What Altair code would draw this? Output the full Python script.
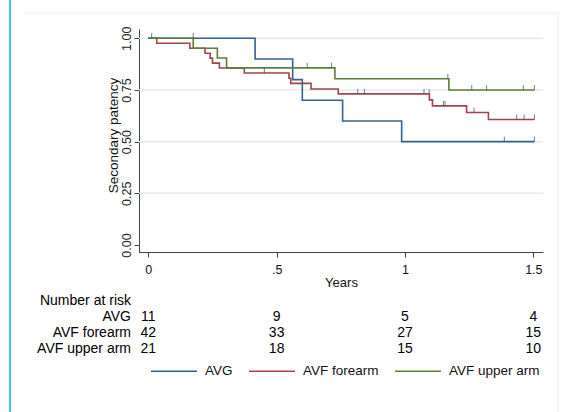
import altair as alt
import pandas as pd

# ---------------- data ----------------
groups = ["AVG", "AVF forearm", "AVF upper arm"]
colors = ["#34628d", "#a1434b", "#5b7f35"]

# Kaplan-Meier step points (time in years, secondary patency)
avg_t = [0, 0.416, 0.5625, 0.60, 0.757, 0.987, 1.504]
avg_s = [1.0, 0.90, 0.80, 0.70, 0.60, 0.50, 0.50]

fore_t = [0, 0.033, 0.162, 0.221, 0.241, 0.250, 0.277, 0.374, 0.548, 0.555,
          0.634, 0.740, 1.095, 1.107, 1.240, 1.325, 1.504]
fore_s = [1.0, 0.976, 0.952, 0.928, 0.904, 0.880, 0.856, 0.832, 0.807, 0.782,
          0.755, 0.731, 0.702, 0.673, 0.641, 0.607, 0.607]

upper_t = [0, 0.175, 0.269, 0.305, 0.727, 1.171, 1.504]
upper_s = [1.0, 0.952, 0.905, 0.857, 0.804, 0.750, 0.750]

# censoring marks
avg_ct = [0.175, 1.387, 1.504]
avg_cs = [1.0, 0.50, 0.50]
fore_ct = [0.013, 0.452, 0.816, 0.842, 1.074, 1.094, 1.150, 1.156, 1.269, 1.435, 1.464, 1.504]
fore_cs = [1.0, 0.832, 0.731, 0.731, 0.731, 0.731, 0.673, 0.673, 0.641, 0.607, 0.607, 0.607]
upper_ct = [0.619, 0.714, 1.167, 1.260, 1.318, 1.461, 1.504]
upper_cs = [0.857, 0.857, 0.804, 0.750, 0.750, 0.750, 0.750]

# number at risk table
risk_times = [0, 0.5, 1, 1.5]
risk_avg = [11, 9, 5, 4]
risk_fore = [42, 33, 27, 15]
risk_upper = [21, 18, 15, 10]
risk_header = "Number at risk"

x_ticks = [0, 0.5, 1, 1.5]
y_ticks = [0, 0.25, 0.5, 0.75, 1.0]
grid_vals = [0.25, 0.5, 0.75, 1.0]

# ---------------- tables ----------------
curves = pd.concat([
    pd.DataFrame({"t": avg_t, "s": avg_s, "group": groups[0], "gi": 0}),
    pd.DataFrame({"t": fore_t, "s": fore_s, "group": groups[1], "gi": 1}),
    pd.DataFrame({"t": upper_t, "s": upper_s, "group": groups[2], "gi": 2}),
], ignore_index=True)

cens = pd.concat([
    pd.DataFrame({"t": avg_ct, "s": avg_cs}),
    pd.DataFrame({"t": fore_ct, "s": fore_cs}),
    pd.DataFrame({"t": upper_ct, "s": upper_cs}),
], ignore_index=True)

FONT = "Liberation Sans"
W, H = 404, 223
PAD_L, PAD_T = 139, 29

xscale = alt.Scale(domain=[-0.0362, 1.5376], nice=False, zero=False)
yscale = alt.Scale(domain=[-0.034, 1.045], nice=False, zero=False)

x_axis = alt.Axis(values=x_ticks, labelExpr="replace('' + datum.value, '0.', '.')",
                  labelFontSize=12.5, labelPadding=6, labelBaseline="top", tickSize=5,
                  labelFlush=False, labelOverlap=False, grid=False,
                  domain=True, domainWidth=1, ticks=True,
                  domainColor="#444", tickColor="#444", labelColor="#111",
                  title="Years", titleFontSize=13, titleFontWeight="normal",
                  titleY=34, titleBaseline="alphabetic", titleColor="#111")
y_axis = alt.Axis(values=y_ticks, format=".2f", labelAngle=270, labelAlign="center",
                  labelBaseline="alphabetic", labelPadding=4, tickSize=5,
                  labelFontSize=12.5, labelFlush=False, labelOverlap=False, grid=False,
                  domain=True, domainWidth=1, ticks=True,
                  domainColor="#444", tickColor="#444", labelColor="#222",
                  title="Secondary patency", titleFontSize=13.5, titleFontWeight="normal",
                  titleAngle=270, titleX=-22, titleY=106, titleAlign="center",
                  titleBaseline="alphabetic", titleColor="#111")

grid = alt.Chart(pd.DataFrame({"v": grid_vals})).mark_rule(
    color="#e4ecf1", strokeWidth=1.5
).encode(y=alt.Y("v:Q", scale=yscale, axis=y_axis), x=alt.value(0), x2=alt.value(W))

dummy = pd.DataFrame({"a": [0]})
x_line = alt.Chart(dummy).mark_rule(color="#444", strokeWidth=1).encode(
    x=alt.value(0), x2=alt.value(W), y=alt.value(H + 0.5))

lines = alt.Chart(curves).mark_line(interpolate="step-after", strokeWidth=1.6).encode(
    x=alt.X("t:Q", scale=xscale, axis=x_axis),
    y=alt.Y("s:Q", scale=yscale, axis=y_axis),
    color=alt.Color("group:N", scale=alt.Scale(domain=groups, range=colors),
                    legend=alt.Legend(orient="none", legendX=11, legendY=318,
                                      direction="horizontal", title=None,
                                      symbolType="stroke", symbolSize=2116,
                                      symbolStrokeWidth=1.5, labelFontSize=13.5,
                                      labelFont=FONT, labelColor="#111",
                                      labelOffset=7, columnPadding=13, padding=0)),
    order=alt.Order("t:Q"),
)

ticks = alt.Chart(cens).mark_tick(orient="vertical", size=5, thickness=1,
                                  color="#444", yOffset=-2.5).encode(
    x=alt.X("t:Q", scale=xscale, axis=x_axis),
    y=alt.Y("s:Q", scale=yscale, axis=y_axis),
)


def risk_row(values, ypix):
    df = pd.DataFrame({"t": risk_times, "n": [str(v) for v in values]})
    return alt.Chart(df).mark_text(fontSize=14, font=FONT, color="#000",
                                   align="center", baseline="alphabetic").encode(
        x=alt.X("t:Q", scale=xscale, axis=x_axis), y=alt.value(ypix), text="n:N")


def row_label(label, ypix):
    return alt.Chart(pd.DataFrame({"lab": [label]})).mark_text(
        fontSize=14, font=FONT, color="#000", align="right", baseline="alphabetic"
    ).encode(x=alt.value(-8), y=alt.value(ypix), text="lab:N")


rows_y = [305 - PAD_T, 321 - PAD_T, 337 - PAD_T, 353 - PAD_T]

cyan = alt.Chart(dummy).mark_rule(color="#45c2e0", strokeWidth=2).encode(
    x=alt.value(10 - PAD_L), y=alt.value(-PAD_T), y2=alt.value(412 - PAD_T))
frame_top = alt.Chart(dummy).mark_rule(color="#e6f0f4", strokeWidth=1).encode(
    x=alt.value(25 - PAD_L), x2=alt.value(559 - PAD_L), y=alt.value(13 - PAD_T))
frame_right = alt.Chart(dummy).mark_rule(color="#e6f0f4", strokeWidth=1).encode(
    x=alt.value(558 - PAD_L), y=alt.value(13 - PAD_T), y2=alt.value(412 - PAD_T))

chart = alt.layer(
    grid, lines, ticks, x_line, cyan, frame_top, frame_right,
    row_label(risk_header, rows_y[0]),
    row_label(groups[0], rows_y[1]), risk_row(risk_avg, rows_y[1]),
    row_label(groups[1], rows_y[2]), risk_row(risk_fore, rows_y[2]),
    row_label(groups[2], rows_y[3]), risk_row(risk_upper, rows_y[3]),
).properties(
    width=W, height=H,
    autosize=alt.AutoSizeParams(type="none"),
    padding={"left": PAD_L, "top": PAD_T, "right": 566 - PAD_L - W, "bottom": 412 - PAD_T - H},
).configure(font=FONT, background="white").configure_view(stroke=None)

chart.save("out.html", embed_options={"renderer": "svg", "actions": False})
